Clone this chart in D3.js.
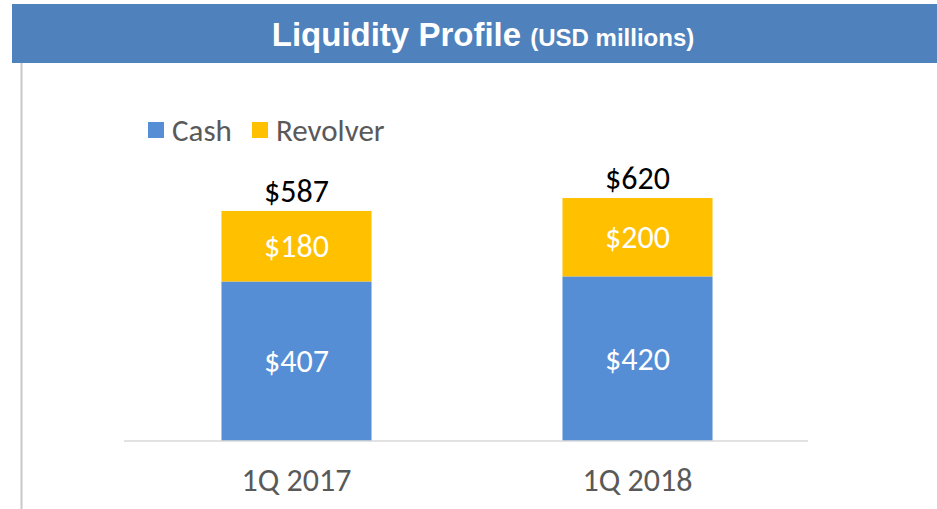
<!DOCTYPE html>
<html>
<head>
<meta charset="utf-8">
<script src="https://cdn.jsdelivr.net/npm/d3@7"></script>
<style>
  body { margin: 0; background: #fff; }
  svg { display: block; }
</style>
</head>
<body>
<div id="chart"></div>
<script>
// data
var categories = ["1Q 2017", "1Q 2018"];
var seriesNames = ["Cash", "Revolver"];
var cashValues = [407, 420];
var revolverValues = [180, 200];
var totals = [587, 620];
var colors = ["#558ED5", "#FFC000"];

var W = 937, H = 509;
var font = "Carlito, Calibri, Lato, 'Open Sans', sans-serif";

var svg = d3.select("#chart").append("svg").attr("width", W).attr("height", H);

// title bar
svg.append("rect").attr("x", 12).attr("y", 4).attr("width", W - 12).attr("height", 59)
	.attr("fill", "#4F81BD");
var title = svg.append("text").attr("x", 483).attr("y", 46).attr("text-anchor", "middle")
	.attr("fill", "#fff").style("font-family", "'Liberation Sans Narrow', 'Arial Narrow', 'Liberation Sans', sans-serif")
	.style("font-weight", "bold");
title.append("tspan").style("font-size", "33px").text("Liquidity Profile ");
title.append("tspan").style("font-size", "24px").text("(USD millions)");

// left border line
svg.append("line").attr("x1", 21.5).attr("x2", 21.5).attr("y1", 63).attr("y2", 509)
	.attr("stroke", "#c8c8c8").attr("stroke-width", 2);

// scales
var x = d3.scaleBand().domain(categories).range([126, 808]).paddingInner(0.56).paddingOuter(0.28);
var y = d3.scaleLinear().domain([0, 700]).range([441, 441 - 700 * 0.3919]);

var stackData = categories.map(function(c, i) {
	return { cat: c, Cash: cashValues[i], Revolver: revolverValues[i] };
});
var stack = d3.stack().keys(seriesNames)(stackData);

var g = svg.append("g");
stack.forEach(function(layer, li) {
	g.selectAll(null).data(layer).enter().append("rect")
		.attr("x", function(d) { return x(d.data.cat); })
		.attr("width", x.bandwidth())
		.attr("y", function(d) { return y(d[1]); })
		.attr("height", function(d) { return y(d[0]) - y(d[1]); })
		.attr("fill", colors[li]);
	// inner labels
	g.selectAll(null).data(layer).enter().append("text")
		.attr("x", function(d) { return x(d.data.cat) + x.bandwidth() / 2; })
		.attr("y", function(d) { return (y(d[0]) + y(d[1])) / 2 + 11; })
		.attr("text-anchor", "middle").attr("fill", "#fff")
		.style("font-family", font).style("font-size", "32px")
		.text(function(d) { return "$" + (d[1] - d[0]); });
});

// totals
g.selectAll(null).data(totals).enter().append("text")
	.attr("x", function(d, i) { return x(categories[i]) + x.bandwidth() / 2; })
	.attr("y", function(d) { return y(d) - 9; })
	.attr("text-anchor", "middle").attr("fill", "#000")
	.style("font-family", font).style("font-size", "32px")
	.text(function(d) { return "$" + d; });

// x axis
var xAxis = svg.append("g").attr("transform", "translate(0,441)")
	.call(d3.axisBottom(x).tickSize(0).tickPadding(27));
xAxis.select(".domain").attr("stroke", "#d9d9d9").attr("stroke-width", 1.5)
	.attr("d", "M124,0H808");
xAxis.selectAll("text").attr("fill", "#595959").style("font-family", font).style("font-size", "32px");

// legend
var legend = svg.append("g").attr("transform", "translate(148,122)");
var lx = [0, 104];
seriesNames.forEach(function(n, i) {
	legend.append("rect").attr("x", lx[i]).attr("y", 0).attr("width", 16).attr("height", 16)
		.attr("fill", colors[i]);
	legend.append("text").attr("x", lx[i] + 24).attr("y", 19).attr("fill", "#595959")
		.style("font-family", font).style("font-size", "31px").text(n);
});
</script>
</body>
</html>
